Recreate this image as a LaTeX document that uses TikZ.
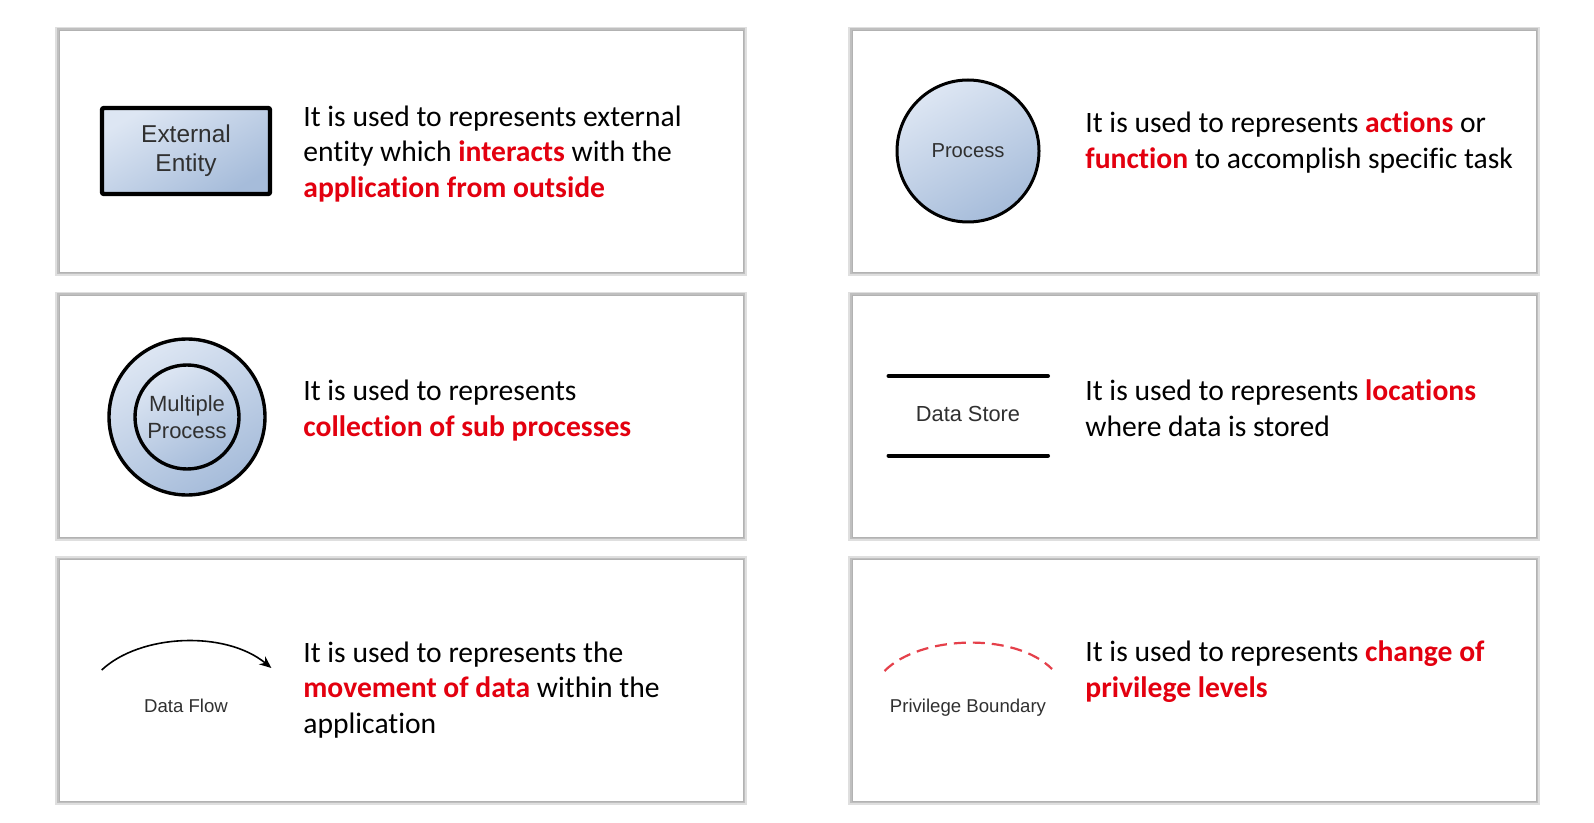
\documentclass[tikz,border=0pt]{standalone}
\usepackage{fontspec}
\setmainfont{Carlito}[Ligatures=NoCommon]
\newfontfamily\shapefont{Liberation Sans}
\usetikzlibrary{arrows.meta}
\definecolor{hired}{HTML}{E3000F}
\definecolor{dashred}{HTML}{E5404A}
\definecolor{lblue}{HTML}{DDE6F3}
\definecolor{dblue}{HTML}{A6BCDA}
\definecolor{lblgray}{HTML}{303030}
\newcommand{\hl}[1]{\textbf{\color{hired}#1}}
\newcommand{\lblsize}[1]{\fontsize{#1}{1.2\dimexpr#1pt\relax}\selectfont}
\tikzset{
  panelshadow/.style={fill=gray!25, draw=none},
  panelshadowin/.style={fill=gray!50, draw=none},
  panel/.style={fill=white, draw=gray!60, line width=0.4pt},
  desc/.style={anchor=west, align=left, inner sep=0pt, font=\fontsize{14.8}{17.8}\selectfont, text=black},
  shapelabel/.style={text=lblgray, align=center, inner sep=0pt},
  bluefill/.style={shade, top color=lblue, bottom color=dblue, shading angle=30},
}
\begin{document}
\begin{tikzpicture}[x=0.5pt,y=-0.5pt]
\useasboundingbox (0,0) rectangle (1594,823);
\fill[white] (0,0) rectangle (1594,823);
% panels
\foreach \px/\py in {59/30, 852/30, 59/295, 852/295, 59/559, 852/559}{
  \fill[panelshadow] (\px-4,\py-3) rectangle (\px+684+4,\py+242+4);
  \fill[panelshadowin] (\px-2,\py-1.5) rectangle (\px+684+2,\py+242+2);
  \draw[panel] (\px,\py) rectangle (\px+684,\py+242);
}
% External entity
\node[draw=black, line width=2.2pt, rounded corners=1pt, bluefill, minimum width=84pt, minimum height=43pt, shapelabel, font=\shapefont\lblsize{12.2}] (ee) at (186,151) {External\\Entity};
\node[desc] (t1) at (303,154) {It is used to represents external\\entity which \hl{interacts} with the\\\hl{application from outside}};
% Process
\node[circle, draw=black, line width=1.5pt, bluefill, minimum size=71pt, shapelabel, font=\shapefont\lblsize{10.1}] (proc) at (968,151) {Process};
\node[desc] (t2) at (1085,142.5) {It is used to represents \hl{actions} or\\\hl{function} to accomplish specific task};
% Multiple process
\node[circle, draw=black, line width=1.7pt, bluefill, minimum size=78pt] (mpo) at (187,417) {};
\node[circle, draw=black, line width=1.7pt, bluefill, minimum size=52pt, shapelabel, font=\shapefont\lblsize{11}] (mpi) at (187,417) {Multiple\\Process};
\node[desc] (t3) at (303,410.5) {It is used to represents\\\hl{collection of sub processes}};
% Data store
\coordinate (ds1a) at (888.5,376);
\coordinate (ds1b) at (1048,376);
\coordinate (ds2a) at (888.5,455.5);
\coordinate (ds2b) at (1048,455.5);
\draw[line width=2pt, line cap=round] (ds1a) -- (ds1b);
\draw[line width=2pt, line cap=round] (ds2a) -- (ds2b);
\node[shapelabel, font=\shapefont\lblsize{10.9}] (ds) at (968,414) {Data Store};
\node[desc] (t4) at (1085,408) {It is used to represents \hl{locations}\\where data is stored};
% Data flow
\coordinate (df1) at (101.7,670);
\coordinate (df2) at (271.4,668);
\draw[line width=0.8pt, -{Stealth[length=6pt,width=5pt]}] (df1) .. controls (140,634) and (225,630) .. (df2);
\node[shapelabel, font=\shapefont\lblsize{9.3}] (dfl) at (186,705.5) {Data Flow};
\node[desc] (t5) at (303,690) {It is used to represents the\\\hl{movement of data} within the\\application};
% Privilege boundary
\coordinate (pb1) at (884.5,671);
\coordinate (pb2) at (1052,669);
\draw[dashred, line width=1.1pt, dash pattern=on 6pt off 3.5pt] (pb1) .. controls (920,635) and (1015,632) .. (pb2);
\node[shapelabel, font=\shapefont\lblsize{9.3}] (pbl) at (968,707.5) {Privilege Boundary};
\node[desc] (t6) at (1085,671.5) {It is used to represents \hl{change of}\\\hl{privilege levels}};
\end{tikzpicture}
\end{document}
